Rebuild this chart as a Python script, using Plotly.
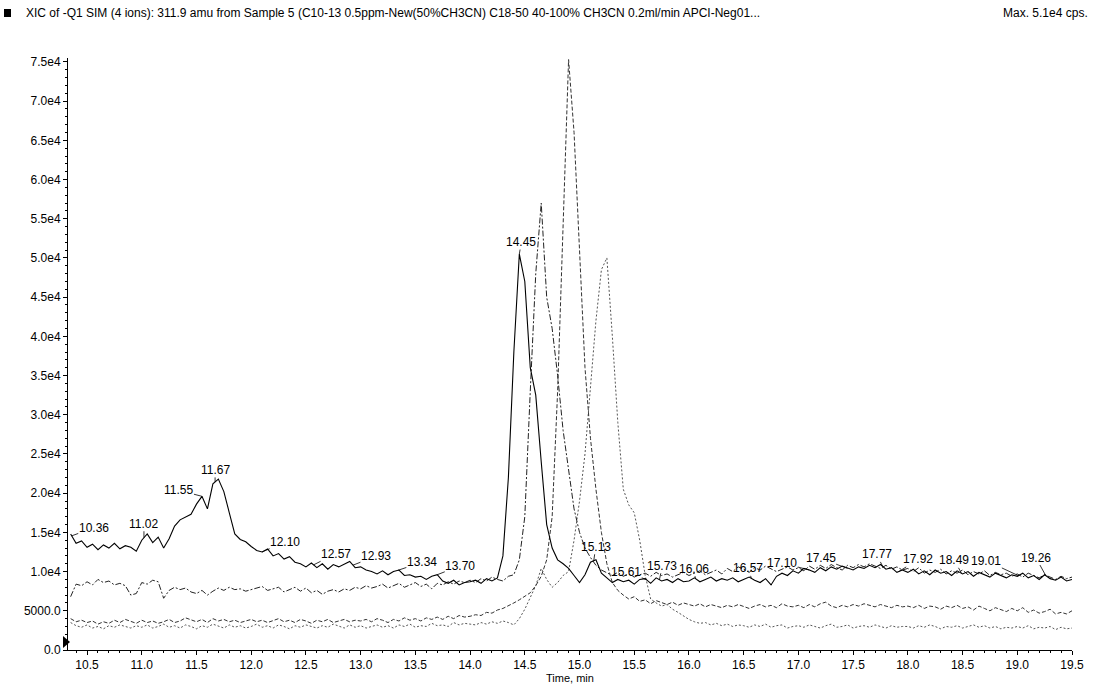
import numpy as np
import plotly.graph_objects as go

# time grid (min), 0.05 min sampling
time_min = np.round(np.arange(10.35, 19.5001, 0.05), 2)

# Trace A (labelled, solid) intensities in 1e3 cps
trace_a = [
    14.8, 13.6, 13.9, 13.1, 13.5, 12.8, 13.4, 13.0, 13.6, 12.9, 13.3, 13.1, 12.6,
    14.0, 14.8, 13.7, 14.4, 13.0, 14.2, 15.8, 16.6, 16.9, 17.3, 18.6, 19.6, 18.0, 21.2, 21.8, 20.2, 17.5, 14.8, 14.1, 13.8,
    13.2, 12.7, 12.5, 12.9, 12.0, 12.3, 11.6, 11.9, 11.2, 11.0, 10.6, 11.1, 10.5, 11.0, 10.3, 10.9, 10.6, 11.0, 11.3, 10.5,
    10.6, 10.2, 10.0, 9.7, 10.1, 9.6, 10.0, 10.2, 9.5, 9.6, 9.3, 9.4, 9.0, 9.4, 9.6, 8.8, 8.5, 8.9, 8.3, 8.6,
    8.7, 8.9, 8.5, 9.1, 8.8, 9.2, 12.0, 22.0, 38.0, 50.5, 47.0, 36.0, 32.5, 24.0, 16.0, 13.0, 11.5, 11.0, 10.4, 9.5,
    8.6, 9.6, 11.2, 11.5, 9.8, 9.2, 8.6, 9.0, 8.7, 8.9, 8.4, 9.0, 9.1, 8.5, 9.2, 8.8, 9.0, 8.6, 9.1, 8.7,
    8.8, 9.2, 8.7, 9.0, 9.3, 8.8, 9.1, 8.9, 9.2, 8.7, 9.0, 9.3, 8.9, 8.6, 9.1, 8.3, 9.4, 9.8, 9.5, 10.1,
    9.8, 10.4, 10.2, 9.9, 10.5, 10.1, 10.6, 10.3, 10.7, 10.4, 10.2, 10.6, 10.4, 10.8, 10.5, 10.9, 10.3, 10.5, 9.9, 10.2,
    9.9, 10.3, 9.7, 10.1, 9.6, 10.2, 9.8, 10.0, 9.5, 10.1, 9.7, 10.0, 9.4, 9.9, 9.6, 9.3, 9.8, 9.5, 9.2, 9.6,
    9.4, 9.8, 9.2, 9.5, 9.0, 9.6, 9.1, 8.9, 9.3, 8.8, 9.0,
]

# Trace B (dash-dot)
trace_b = [
    6.8, 8.4, 8.2, 8.7, 8.3, 9.0, 8.6, 8.8, 8.3, 8.5, 8.2, 7.0, 7.2,
    8.6, 8.4, 8.9, 8.7, 6.6, 7.6, 8.0, 7.7, 7.9, 7.4, 7.2, 7.6, 7.0, 7.5, 7.9, 7.6, 8.0, 7.7, 7.8, 7.5,
    7.7, 7.9, 8.1, 7.6, 7.8, 8.0, 7.4, 7.7, 8.0, 7.5, 7.9, 7.3, 7.6, 7.1, 7.5, 7.7, 7.4, 7.8, 7.6, 8.0,
    7.8, 8.2, 7.9, 8.1, 8.4, 7.9, 8.2, 8.5, 8.0, 8.3, 8.6, 8.1, 8.4, 7.8, 8.5, 8.3, 8.7, 8.4, 8.8, 8.6,
    8.9, 8.6, 9.1, 8.8, 9.3, 9.0, 8.8, 9.4, 9.6, 11.5, 17.0, 33.0, 48.0, 57.0, 45.0, 41.0, 35.0, 28.0, 23.0, 18.0,
    15.0, 13.0, 11.8, 10.8, 10.2, 9.8, 9.5, 9.9, 9.4, 9.7, 9.3, 9.6, 9.8, 9.4, 9.9, 9.5, 9.7, 9.3, 9.6, 9.9,
    9.5, 9.8, 10.1, 9.6, 9.9, 10.2, 9.7, 10.4, 10.0, 10.6, 10.3, 9.9, 10.5, 10.2, 10.7, 10.4, 10.0, 10.3, 10.6, 10.2,
    10.5, 10.1, 10.7, 10.3, 10.8, 10.4, 10.9, 10.5, 10.2, 10.8, 10.5, 10.9, 10.6, 11.0, 10.7, 10.4, 10.8, 10.3, 10.6, 10.2,
    10.4, 10.0, 10.5, 9.8, 10.2, 9.9, 10.3, 9.7, 10.1, 9.8, 10.2, 9.6, 10.0, 9.7, 10.1, 9.5, 9.9, 9.6, 9.8, 9.4,
    9.7, 9.3, 9.8, 9.5, 9.2, 9.6, 9.3, 9.0, 9.4, 9.1, 9.3,
]

# Trace C (dashed)
trace_c = [
    4.0, 3.6, 3.8, 3.5, 3.7, 3.3, 3.6, 3.4, 3.8, 3.5, 3.9, 3.6, 3.4,
    3.8, 3.5, 3.7, 3.4, 3.6, 3.9, 3.5, 3.7, 4.1, 3.8, 3.6, 3.9, 3.5, 4.0, 3.7, 3.9, 3.6, 3.8, 3.5, 3.7,
    3.9, 3.6, 3.8, 3.5, 3.7, 4.0, 3.6, 3.8, 3.5, 3.9, 3.7, 3.4, 3.8, 3.6, 3.9, 3.5, 3.7, 3.9, 3.6, 3.8,
    3.7, 3.9, 3.6, 4.0, 3.8, 3.5, 3.9, 3.7, 4.1, 3.8, 4.0, 3.7, 4.1, 3.9, 4.2, 3.9, 4.3, 4.0, 4.4, 4.2,
    4.3, 4.5, 4.4, 4.8, 4.7, 5.1, 5.3, 5.6, 6.0, 6.4, 6.9, 7.3, 8.2, 9.4, 11.5, 17.0, 33.0, 55.0, 75.3, 66.0,
    50.0, 36.0, 27.0, 20.5, 15.0, 11.0, 8.6, 7.6, 7.0, 6.5, 6.8, 6.2, 6.4, 5.9, 6.3, 6.0, 5.8, 6.1, 5.7, 6.0,
    5.8, 5.6, 5.9, 5.5, 5.8, 5.6, 5.4, 5.7, 5.5, 5.8, 5.6, 5.3, 5.6, 5.8, 5.5, 5.7, 5.4, 5.9, 5.6, 5.5,
    5.7, 5.4, 5.8, 5.5, 5.9, 6.1, 5.6, 5.4, 5.7, 5.5, 5.8, 5.6, 5.9, 5.7, 5.5, 5.8, 5.6, 5.4, 5.7, 5.5,
    5.6, 5.4, 5.7, 5.3, 5.6, 5.5, 5.2, 5.6, 5.4, 5.7, 5.3, 5.5, 5.1, 5.6, 5.3, 5.0, 5.4, 5.2, 4.9, 5.3,
    5.0, 5.4, 4.8, 5.1, 4.7, 4.9, 5.2, 4.6, 4.8, 4.6, 5.0,
]

# Trace D (dotted)
trace_d = [
    3.5, 3.1, 2.9, 3.2, 2.8, 3.0, 2.7, 3.1, 2.9, 3.2, 3.0, 2.8, 3.1,
    2.9, 3.2, 2.8, 3.0, 3.3, 2.9, 3.1, 2.8, 3.2, 3.0, 2.7, 3.1, 2.9, 3.3, 3.0, 2.8, 3.2, 2.9, 3.1, 2.8,
    3.0, 3.3, 2.9, 3.1, 2.8, 3.2, 3.0, 2.7, 3.1, 2.9, 3.2, 3.0, 2.8, 3.1, 2.9, 3.3, 3.0, 2.8, 3.2, 2.9,
    3.1, 2.8, 3.0, 3.2, 2.9, 3.1, 2.8, 3.2, 3.0, 3.3, 2.9, 3.1, 3.0, 3.4, 3.1, 3.2, 3.0, 3.5, 3.2, 3.4,
    3.3, 3.2, 3.5, 3.3, 3.6, 3.4, 3.7, 3.5, 3.2, 4.0, 5.2, 6.8, 8.2, 10.4, 9.0, 8.0, 8.6, 9.5, 10.0, 14.0,
    19.0, 25.0, 33.0, 42.0, 48.5, 50.0, 40.0, 29.0, 20.5, 18.5, 17.5, 14.0, 9.5, 6.5, 6.0, 5.6, 5.8, 5.2, 4.8, 4.3,
    3.9, 3.6, 3.4, 3.5, 3.2, 3.4, 3.1, 3.3, 3.0, 3.2, 3.1, 2.9, 3.2, 3.0, 3.3, 2.9, 3.1, 3.2, 2.8, 3.0,
    3.1, 2.9, 3.2, 3.0, 2.8, 3.1, 3.3, 2.9, 3.0, 3.2, 2.8, 3.0, 3.1, 2.9, 3.2, 3.0, 2.8, 3.1, 2.9, 3.0,
    3.0, 2.8, 3.1, 2.9, 3.2, 3.0, 2.7, 3.0, 2.9, 3.1, 2.8, 3.0, 3.2, 2.9, 3.1, 2.8, 3.0, 2.7, 2.9, 2.8,
    3.0, 2.8, 3.1, 2.7, 2.9, 2.8, 3.0, 2.6, 2.9, 2.7, 2.8,
]

# peak labels on trace A: retention time, label offsets (px)
peak_labels = [10.36, 11.02, 11.55, 11.67, 12.10, 12.57, 12.93, 13.34, 13.70, 14.45,
               15.13, 15.61, 15.73, 16.06, 16.57, 17.10, 17.45, 17.77, 17.92, 18.49, 19.01, 19.26]
label_ax = [22, 0, -23, 0, 23, 22, 23, 24, 23, 2, 2, -20, 3, -2, -3, -27, -27, -6, 19, -7, -32, -10]
label_ay = [-8, -14, -6, -12, -10, -11, -9, -8, -9, -12, -14, -8, -14, -10, -10, -7, -10, -12, -12, -13, -15, -18]

y_tickvals = list(range(0, 75001, 5000))
y_ticktext = ["0.0", "5000.0"] + [f"{v/1e4:.1f}e4" for v in y_tickvals[2:]]

scale = 1000.0
fig = go.Figure()
styles = [
    (trace_d, "#555555", "2px,2px", 1.0),
    (trace_c, "#333333", "4px,2px", 1.0),
    (trace_b, "#222222", "6px,2px,2px,2px", 1.0),
    (trace_a, "#000000", "solid", 1.1),
]
for vals, col, dash, w in styles:
    fig.add_trace(go.Scatter(x=time_min, y=np.array(vals) * scale, mode="lines",
                             line=dict(color=col, width=w, dash=dash), showlegend=False,
                             hoverinfo="skip"))

ya = np.array(trace_a) * scale
for t, ax, ay in zip(peak_labels, label_ax, label_ay):
    yv = float(np.interp(t, time_min, ya))
    fig.add_annotation(x=t, y=yv, text=f"{t:.2f}", showarrow=True, arrowhead=0,
                       arrowwidth=0.8, arrowcolor="black", ax=ax, ay=ay, standoff=0,
                       font=dict(size=12, color="black", family="Liberation Sans, Arial, sans-serif"),
                       borderpad=0)

W, H = 1095, 684
ml, mr, mt, mb = 68, 23, 58, 34
pw, ph = W - ml - mr, H - mt - mb

def px(x):
    return (x - ml) / pw

def py(y):
    return (H - mb - y) / ph

font_fam = "Liberation Sans, Arial, sans-serif"
fig.update_layout(
    width=W, height=H,
    margin=dict(l=ml, r=mr, t=mt, b=mb),
    plot_bgcolor="white", paper_bgcolor="white",
    font=dict(family=font_fam, size=12, color="black"),
    xaxis=dict(range=[10.326, 19.5], tickmode="linear", tick0=10.5, dtick=0.5,
               tickformat=".1f", ticks="outside", ticklen=4, tickcolor="black",
               showline=True, linecolor="black", linewidth=1, showgrid=False, zeroline=False,
               minor=dict(dtick=0.1, tick0=10.5, ticks="outside", ticklen=2, tickcolor="black"),
               tickfont=dict(size=12)),
    yaxis=dict(range=[0, 75500], tickmode="array", tickvals=y_tickvals, ticktext=y_ticktext,
               ticks="outside", ticklen=4, tickcolor="black",
               showline=True, linecolor="black", linewidth=1, showgrid=False, zeroline=False,
               minor=dict(dtick=1000, ticks="outside", ticklen=2, tickcolor="black"),
               tickfont=dict(size=12)),
)

fig.add_annotation(xref="paper", yref="paper", x=0.5, y=0, yanchor="top", yshift=-20,
                   text="Time, min", showarrow=False, font=dict(size=11))
fig.add_annotation(xref="paper", yref="paper", x=px(24), y=py(13), xanchor="left", yanchor="middle",
                   text="XIC of -Q1 SIM (4 ions): 311.9 amu from Sample 5 (C10-13 0.5ppm-New(50%CH3CN) C18-50 40-100% CH3CN 0.2ml/min APCI-Neg01...",
                   showarrow=False, font=dict(size=12))
fig.add_annotation(xref="paper", yref="paper", x=px(1090), y=py(13), xanchor="right", yanchor="middle",
                   text="Max. 5.1e4 cps.", showarrow=False, font=dict(size=12))
fig.add_shape(type="rect", xref="paper", yref="paper", x0=px(4), x1=px(11), y0=py(17), y1=py(9),
              fillcolor="black", line=dict(width=0))
fig.add_shape(type="path", xref="paper", yref="paper",
              path=f"M {px(63)} {py(636)} L {px(70)} {py(642)} L {px(63)} {py(648)} Z",
              fillcolor="black", line=dict(width=0))

fig.write_html("out.html")
